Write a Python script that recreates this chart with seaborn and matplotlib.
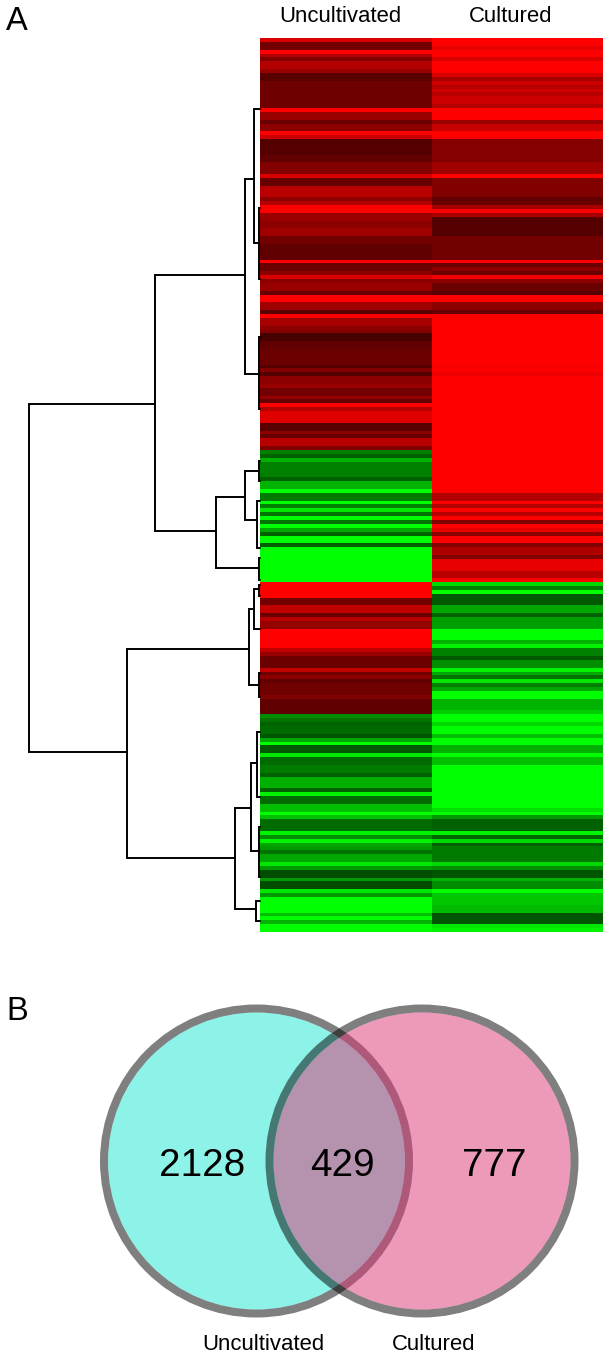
import numpy as np
import pandas as pd
import seaborn as sns
import matplotlib.pyplot as plt
from matplotlib.colors import LinearSegmentedColormap
from matplotlib.patches import Circle

W, H = 609, 1357

# expression bands, top to bottom: level (green -1 .. black 0 .. red 1) and number of genes
unc_levels = [.85, .45, 1, .7, .5, .7, .6, .35, .43, 1, .6, .42, .55, 1, .8, .33, .38, .5, .85, .4, .72, .55, .7, 1,
              .6, .55, .62, .45, .38, 1, .42, .55, .85, .55, .6, .4, 1, .62, .35, 1, .65, .55,
              .5, .28, .38, .42, .33, .5, .33, .55, .6, .45, .58, .4, 1, .7, .88, .35, .55, .4, .72, .5,
              -.5, -.38, -.7, -.5, -.38, -.7, -1, -.48, -1, -.5, -.9, -.45, -1, -.45, -1, -.65, -.38, -1, -.38, -1,
              1, .45, .75, .42, .72, .58, 1, .75, .6, .42, .75, .45, .55, .38, .43, .5, .38,
              -.55, -.45, -.38, -.42, -.33, -.65, -1, -.35, -.9, -.42, -.48, -.38, -.68, -.38, -.95, -.42, -.75, -1,
              -.75, -.42, -.95, -.55, -.95, -.65, -.6, -.45, -.65, -.9, -.6, -.3, -.6, -.3, -.9, -.6, -1, -.75, -1,
              -.7, -1]
unc_counts = [1, 2, 1, 1, 1, 2, 1, 2, 7, 1, 2, 1, 2, 1, 1, 4, 2, 3, 1, 2, 3, 1, 1, 2,
              2, 2, 2, 2, 4, 1, 2, 1, 1, 1, 2, 1, 2, 2, 1, 1, 2, 1,
              1, 2, 2, 4, 1, 1, 1, 2, 1, 2, 1, 1, 1, 1, 3, 2, 1, 1, 2, 1,
              1, 1, 1, 4, 1, 2, 1, 2, 1, 1, 1, 1, 1, 1, 1, 1, 1, 2, 1, 9,
              4, 2, 2, 1, 1, 2, 5, 1, 1, 3, 1, 1, 1, 1, 3, 1, 4,
              1, 1, 1, 2, 1, 1, 1, 2, 1, 2, 2, 1, 3, 1, 1, 2, 2, 1,
              1, 3, 1, 1, 1, 1, 1, 1, 2, 1, 1, 2, 1, 2, 1, 1, 4, 1, 1,
              1, 2]

cult_levels = [1, .9, 1, .85, 1, .85, .65, .8, .72, .8, .72, .8, .7, 1, .6, .78, 1, .52, .62, 1, .5, .38, .42, .65,
               .98, .65, .33, .45, 1, .42, .55, .42, .95, .55, .42, .35, 1, .55, .4, 1,
               1, .97, 1, .93, 1, .7, 1, .7, 1, .72, 1, .5, 1, .9, .55, 1, .5, .68, .5, .9, .72, 1,
               -.85, -.5, -1, -.35, -.65, -.38, -.62, -1, -.7, -.95, -.5, -.35, -.55, -.95, -.65, -.45, -.9, -.5, -.65,
               -1, -.7, -.8, -1, -.85, -1, -.75, -1, -.68, -1, -.75, -1, -.88, -1, -.6, -.38, -.95, -.4, -.85, -.38,
               -.48, -.48, -.85, -.55, -.33, -.7, -.55, -1, -.78, -.72, -.33, -.9, -.95]
cult_counts = [2, 1, 2, 1, 3, 1, 1, 1, 1, 1, 1, 2, 1, 3, 1, 2, 2, 6, 3, 1, 5, 1, 1, 1,
               1, 1, 5, 6, 1, 1, 1, 1, 1, 1, 2, 1, 2, 2, 1, 4,
               9, 1, 1, 1, 30, 2, 1, 1, 1, 1, 1, 1, 1, 1, 1, 2, 1, 2, 1, 3, 2, 1,
               1, 1, 1, 3, 2, 1, 3, 3, 1, 1, 2, 1, 2, 1, 1, 1, 1, 1, 1,
               2, 3, 1, 2, 1, 2, 1, 2, 2, 1, 2, 11, 1, 1, 1, 3, 1, 1, 1, 1,
               2, 2, 1, 1, 2, 1, 2, 1, 3, 2, 3, 1, 1]

conditions = ["Uncultivated", "Cultured"]

# dendrogram links: height, top row, bottom row, height of the child at each end
link_height = [231, 105, 133, 15, 6, 1.5, 1.5, 44, 15, 1.5, 3, 1.5, 11, 6, 1.5, 1.5, 25, 9, 3, 1.5, 4]
link_top = [94.2, 61.0, 157.2, 36.3, 18.3, 43.7, 76.9, 118.1, 111.4, 108.8, 119.1, 133.8, 146.9, 141.8, 140.7,
            163.4, 198.1, 186.5, 178.5, 203.0, 222.0]
link_bottom = [183.7, 126.8, 211.0, 86.4, 52.7, 62.0, 95.4, 136.4, 124.0, 114.0, 131.2, 139.4, 166.5, 152.0,
               143.6, 169.5, 224.1, 209.2, 195.3, 215.8, 227.2]
top_child = [105, 15, 11, 6, 0, 0, 0, 15, 1.5, 0, 0, 0, 6, 1.5, 0, 0, 9, 3, 0, 0, 0]
bottom_child = [133, 44, 25, 1.5, 1.5, 0, 0, 1.5, 3, 0, 0, 0, 1.5, 0, 0, 0, 4, 1.5, 0, 0, 0]

# venn counts
venn_counts = [2128, 429, 777]

sns.set_style("white")
plt.rcParams["font.family"] = ["Liberation Sans", "DejaVu Sans"]
plt.rcParams["text.color"] = "black"

fig = plt.figure(figsize=(W / 100, H / 100), dpi=100)


def px_axes(x0, y0, x1, y1):
    return fig.add_axes([x0 / W, 1 - y1 / H, (x1 - x0) / W, (y1 - y0) / H])


# heatmap
ax = px_axes(260, 38, 603, 932)
expr = pd.DataFrame({
    conditions[0]: np.repeat(unc_levels, unc_counts),
    conditions[1]: np.repeat(cult_levels, cult_counts),
})
green_red = LinearSegmentedColormap.from_list("gkr", ["#00ff00", "#000000", "#ff0000"], N=256)
sns.heatmap(expr, ax=ax, cmap=green_red, vmin=-1, vmax=1, cbar=False, xticklabels=False, yticklabels=False)

# dendrogram
dax = px_axes(0, 38, 260, 932)
for h, t, b, tc, bc in zip(link_height, link_top, link_bottom, top_child, bottom_child):
    dax.plot([tc, h, h, bc], [t, t, b, b], color="black", lw=1.4, solid_joinstyle="miter", clip_on=False)
dax.set_xlim(260, 0)
dax.set_ylim(len(expr), 0)
dax.axis("off")

# overlay in pixels for the venn and the text
ov = px_axes(0, 0, W, H)
ov.set_xlim(0, W)
ov.set_ylim(H, 0)
ov.axis("off")
ov.patch.set_alpha(0)

ring = (0, 0, 0, 0.5)
left = (256.5, 1161)
right = (422, 1161)
ov.add_patch(Circle(left, 148.5, fc=(0x1d / 255, 0xe7 / 255, 0xd1 / 255, 0.5), ec="none"))
ov.add_patch(Circle(left, 152.5, fc="none", ec=ring, lw=5.76))
ov.add_patch(Circle(right, 148.5, fc=(0xdd / 255, 0x35 / 255, 0x77 / 255, 0.5), ec="none"))
ov.add_patch(Circle(right, 152.5, fc="none", ec=ring, lw=5.76))

for x, n in zip([202, 342, 494], venn_counts):
    ov.text(x, 1166, str(n), fontsize=27.8, ha="center", va="center")

ov.text(340, 16, conditions[0], fontsize=15.9, ha="center", va="center")
ov.text(510.5, 16, conditions[1], fontsize=15.9, ha="center", va="center")
ov.text(263, 1345, conditions[0], fontsize=15.9, ha="center", va="center")
ov.text(433.5, 1345, conditions[1], fontsize=15.9, ha="center", va="center")
ov.text(6, 21, "A", fontsize=23.5, ha="left", va="center")
ov.text(6, 1011, "B", fontsize=23.5, ha="left", va="center")

fig.savefig("out.png", dpi=100)
